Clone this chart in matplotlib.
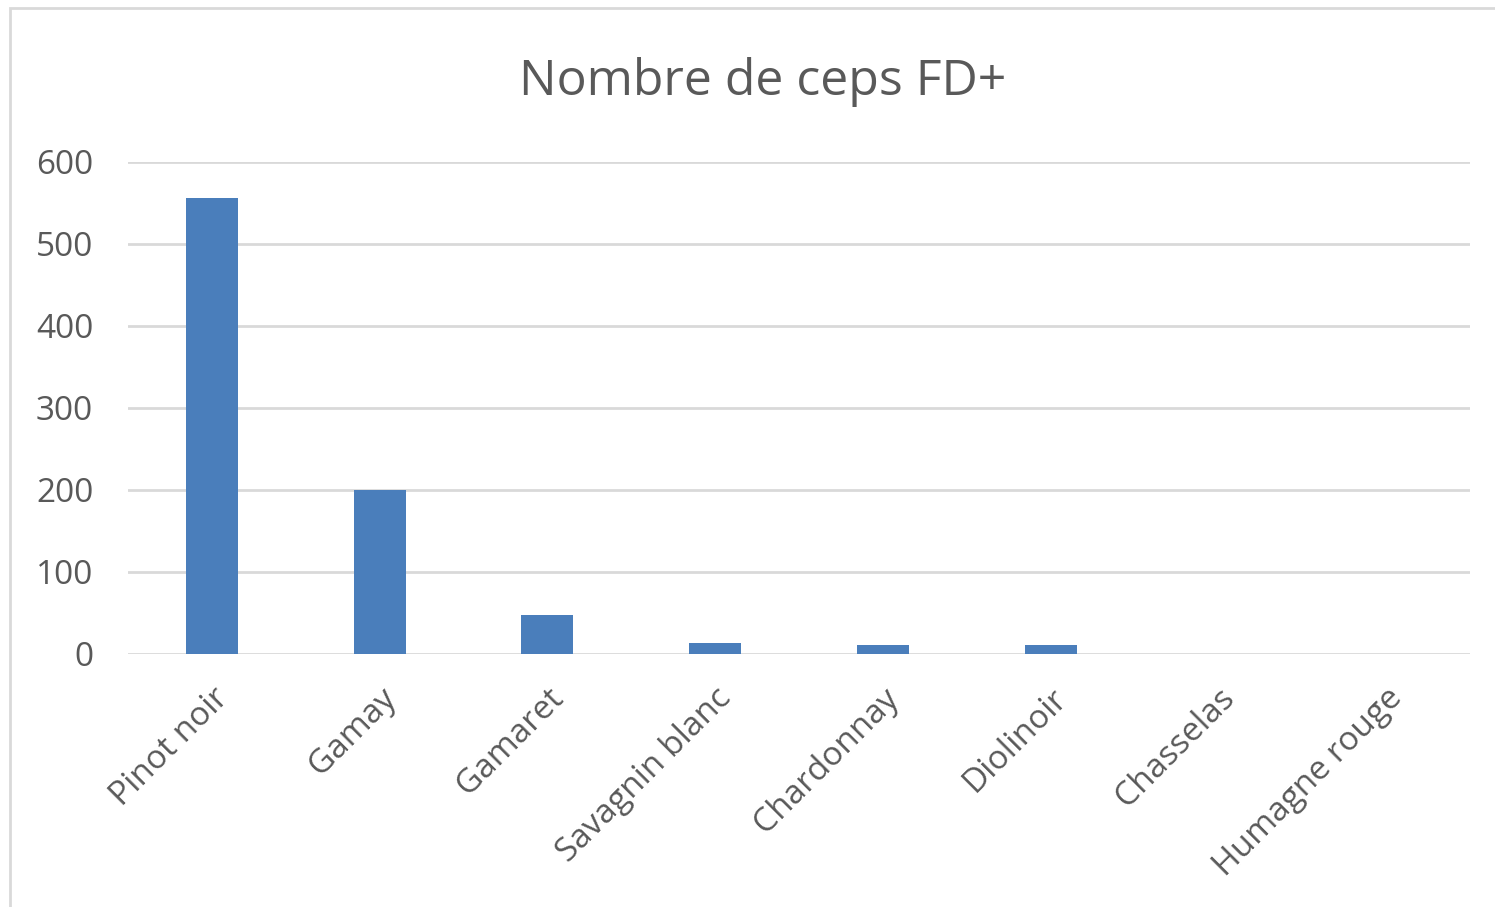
import numpy as np
from matplotlib import pyplot as plt
from matplotlib.patches import Rectangle

cepages = ["Pinot noir", "Gamay", "Gamaret", "Savagnin blanc", "Chardonnay",
           "Diolinoir", "Chasselas", "Humagne rouge"]
nombre_ceps = [556, 200, 48, 13, 11, 11, 0, 0]
yticks = [0, 100, 200, 300, 400, 500, 600]

plt.rcParams['font.family'] = ['Open Sans', 'DejaVu Sans']
grey = "#595959"

fig = plt.figure(figsize=(14.95, 9.07), dpi=100)
fig.patches.append(Rectangle((10 / 1495, -0.1), 1.2, 1 - 8 / 907 + 0.1,
                             transform=fig.transFigure, fill=False,
                             edgecolor="#d9d9d9", linewidth=2))
ax = fig.add_axes([128 / 1495, 1 - 654 / 907, (1470 - 128) / 1495, (654 - 162) / 907])

x = np.arange(len(cepages))
ax.bar(x, nombre_ceps, width=0.31, color="#4a7ebb", zorder=3)
ax.set_xlim(-0.5, len(cepages) - 0.5)
ax.set_ylim(0, 600)
ax.set_yticks(yticks)
ax.set_yticklabels([str(v) for v in yticks], fontsize=24, color=grey)
ax.set_xticks(x)
ax.set_xticklabels(cepages, rotation=45, ha="right", rotation_mode="anchor",
                   fontsize=24, color=grey)
ax.tick_params(axis="both", length=0)
ax.tick_params(axis="y", pad=25)
ax.tick_params(axis="x", pad=20)
ax.yaxis.grid(True, color="#d9d9d9", linewidth=2, zorder=0)
for s in ax.spines.values():
    s.set_visible(False)

fig.text(763 / 1495, 1 - 82 / 907, "Nombre de ceps FD+", fontsize=36, color=grey,
         ha="center", va="center")

fig.savefig("out.png", dpi=100)
